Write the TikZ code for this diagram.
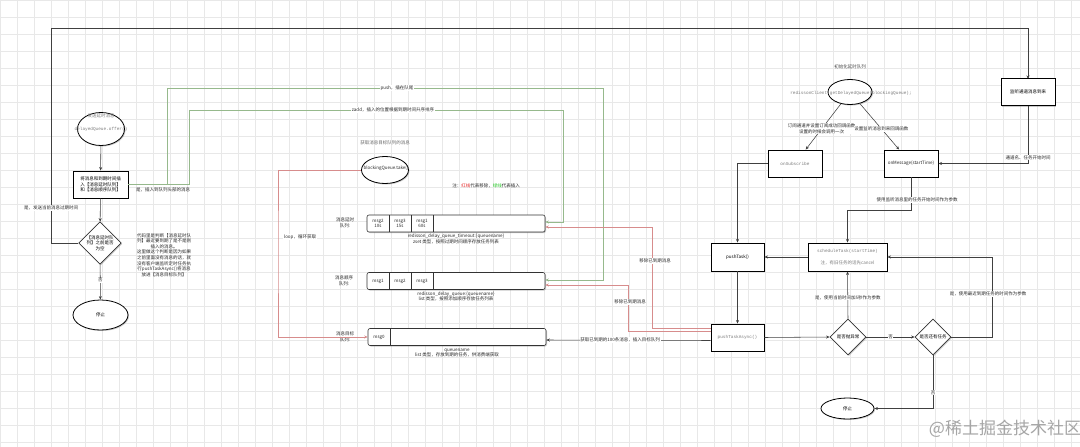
\documentclass[tikz,border=0pt]{standalone}
\usepackage{fontspec}
\setmainfont{Noto Sans CJK SC}
\newfontfamily\cjk{Noto Sans CJK SC}
\newfontfamily\monof{Liberation Mono}
\usetikzlibrary{shapes.geometric,arrows.meta,shadows,calc}
\definecolor{gridc}{RGB}{232,232,232}
\definecolor{greenl}{RGB}{150,185,140}
\definecolor{redl}{RGB}{215,140,140}
\definecolor{txt}{RGB}{40,40,40}
\definecolor{monoc}{RGB}{125,125,125}
\definecolor{notered}{RGB}{230,40,40}
\definecolor{notegreen}{RGB}{40,200,40}
\tikzset{
  sh/.style={drop shadow={shadow xshift=1pt,shadow yshift=-1pt,opacity=0.35,fill=black!60}},
  boxn/.style={draw=black,line width=0.9pt,fill=white,inner sep=1pt,align=center,sh},
  elln/.style={ellipse,draw=black,line width=0.8pt,fill=white,inner sep=0pt,sh},
  dian/.style={diamond,draw=black!80,line width=0.7pt,fill=white,inner sep=0pt,align=center,sh},
  queue/.style={draw=black!80,line width=0.6pt,rounded corners=2pt,fill=white,minimum width=178pt,minimum height=17pt,inner sep=0pt,sh},
  lbl/.style={fill=white,inner sep=0.6pt,text=txt,align=center},
  plain/.style={inner sep=0pt,text=txt,align=center},
  monot/.style={inner sep=0pt,text=monoc,font=\monof\fontsize{4.4}{6}\selectfont,align=center},
  conn/.style={draw=black!75,line width=0.55pt,-{Stealth[length=3.5pt,width=3pt]}},
  gconn/.style={draw=greenl,line width=0.55pt,-{Stealth[length=3.5pt,width=3pt]}},
  rconn/.style={draw=redl,line width=0.55pt,-{Stealth[length=3.5pt,width=3pt]}},
}
\begin{document}
\begin{tikzpicture}[x=1pt,y=-1pt,font=\fontsize{4.5}{5.6}\selectfont]
\useasboundingbox (0,0) rectangle (1080,447);
\fill[white] (0,0) rectangle (1080,447);
\foreach \i in {0,...,63} \draw[gridc,line width=0.4pt] (\i*17,0) -- (\i*17,447);
\foreach \j in {0,...,26} \draw[gridc,line width=0.4pt] (0,\j*17) -- (1080,\j*17);

% ---------------- left flow ----------------
\node[elln,minimum width=47pt,minimum height=33pt] (e1) at (101,129) {};
\node[plain,text=monoc] (e1t) at (101,116) {\cjk 发送延时消息};
\node[monot] (e1m) at (101,129) {delayedQueue.offer()};
\node[boxn,minimum width=55pt,minimum height=27pt] (r1) at (100.5,184.5) {将消息和到期时间插\\入【消息延时队列】\\和【消息顺序队列】};
\node[dian,minimum width=37pt,minimum height=39pt] (d1) at (100,243) {【消息延时队\\列】之前是否\\为空};
\node[elln,minimum width=55pt,minimum height=30pt] (s1) at (100.5,315) {停止};
\draw[conn] (e1) -- (r1);
\draw[conn] (r1) -- (d1);
\draw[conn] (d1) -- node[lbl,pos=0.45] (l_no1) {否} (s1);
\coordinate (tl) at (51,28);
\draw[conn] (d1.west) -| (tl) -| ($(tl)+(977,51)$);
\node[lbl] (l_yes1) at (51,208) {是，发送当前消息过期时间};
\node[plain] (note1) at (164,255) {代码里是判断【消息延时队\\列】最近要到期了是不是刚\\插入的消息。\\这里做这个判断是因为如果\\之前里面没有消息的话，就\\没有客户端监听定时任务执\\行pushTaskAsync()将消息\\放进【消息目标队列】};

% ---------------- queues ----------------
\node[queue] (qt) at (456,223.5) {};
\node[queue] (qo) at (456,281) {};
\node[queue] (tq) at (457,337) {};
\draw[black!80,line width=0.6pt] (389,215) -- (389,232) (411,215) -- (411,232) (433,215) -- (433,232);
\draw[black!80,line width=0.6pt] (389,272.5) -- (389,289.5) (411,272.5) -- (411,289.5) (433,272.5) -- (433,289.5);
\draw[black!80,line width=0.6pt] (390,328.5) -- (390,345.5);
\node[plain] (qt1) at (378,223.5) {msg2\\10s};
\node[plain] (qt2) at (400,223.5) {msg3\\15s};
\node[plain] (qt3) at (422,223.5) {msg1\\60s};
\node[plain] (qo1) at (378,281) {msg1};
\node[plain] (qo2) at (400,281) {msg2};
\node[plain] (qo3) at (422,281) {msg3};
\node[plain] (tq1) at (379,337) {msg0};
\node[plain] (qtl) at (345,223) {消息延时\\队列:};
\node[plain] (qol) at (344,281) {消息顺序\\队列:};
\node[plain] (tql) at (345,337) {消息目标\\队列:};
\node[plain] (qtd) at (456,239) {redisson\_delay\_queue\_timeout:\{queuename\}\\zset 类型，按照过期时间顺序存放任务列表};
\node[plain] (qod) at (456,296.5) {redisson\_delay\_queue:\{queuename\}\\list 类型，按照添加顺序存放任务列表};
\node[plain] (tqd) at (457,353) {queuename\\list 类型，存放到期的任务，供消费端获取};

% consumer
\node[plain,text=black!60] (bqt) at (385,143) {获取消息目标队列的消息};
\node[elln,minimum width=47pt,minimum height=27pt] (bq) at (385,170) {};
\node[plain] (bqtx) at (386,168) {blockingQueue.take()};
\node[plain] (legend) at (486,186) {注：{\color{notered}红线}代表移除，{\color{notegreen}绿线}代表插入};
\coordinate (lp) at (278,250);
\draw[rconn] (bq.west) -| (lp) |- (tq.west);
\node[lbl] (l_loop) at (300,237) {loop，循环获取};

% green insert lines
\coordinate (g1) at (189,110);
\coordinate (g2) at (167,88);
\draw[gconn] (r1.east) -| (g1) -| ($(qt.east)+(18,-1.5)$) -- ($(qt.east)+(0,-1.5)$);
\draw[gconn] (r1.east) -| (g2) -| ($(qo.east)+(58,-1)$) -- ($(qo.east)+(0,-1)$);
\node[lbl] (l_zadd) at (393,110) {zadd，插入的位置根据到期时间升序排序};
\node[lbl] (l_push) at (397,88) {push，插在队尾};
\node[plain] (l_yes2) at (163,190) {是，插入到队列头部的消息};

% ---------------- right flow ----------------
\node[plain,text=black!70] (initl) at (850,67) {初始化延时队列};
\node[elln,minimum width=44pt,minimum height=25pt] (e2) at (850,92) {};
\node[monot] (e2m) at (851,93) {redissonClient.getDelayedQueue(blockingQueue);};
\node[boxn,minimum width=54pt,minimum height=27pt,font=\monof\fontsize{4.4}{6}\selectfont,text=monoc] (sub) at (795,163.5) {onSubscribe};
\node[boxn,minimum width=54pt,minimum height=27pt] (onm) at (911,163.5) {};
\node[plain] (onmt) at (911,163.5) {onMessage(startTime)};
\node[boxn,minimum width=54pt,minimum height=27pt] (lis) at (1028,92) {监听通道消息到来};
\node[boxn,minimum width=53pt,minimum height=28pt] (pt) at (737.5,257) {pushTask()};
\node[boxn,minimum width=79pt,minimum height=28pt] (sch) at (847.5,257) {};
\node[monot] (scht) at (847.5,251) {scheduleTask(startTime)};
\node[plain,text=monoc] (schn) at (847.5,263) {注，有旧任务的话先cancel};
\node[boxn,minimum width=53pt,minimum height=27pt,font=\monof\fontsize{4.4}{6}\selectfont,text=monoc] (pta) at (737.5,337.5) {pushTaskAsync()};
\node[dian,minimum width=36pt,minimum height=36pt] (d2) at (848,337) {是否抛异常};
\node[dian,minimum width=36pt,minimum height=36pt] (d3) at (933,337) {是否还有任务};
\node[elln,minimum width=53pt,minimum height=21pt] (s2) at (847.5,408.5) {停止};

\draw[conn] (e2) -- node[lbl,pos=0.55] (l_sub) {订阅通道并设置订阅成功回调函数\\设置的时候会调用一次} (sub);
\draw[conn] (e2) -- node[lbl,pos=0.55] (l_onm) {设置监听消息到来回调函数} (onm);
\draw[conn] (lis.south) |- node[lbl,pos=0.45] (l_ch) {通道名、任务开始时间} (onm.east);
\draw[conn] (sub.west) -| (pt.north);
\coordinate (k1) at (847.5,210);
\draw[conn] (onm.south) |- (k1) -- (sch.north);
\node[lbl] (l_par) at (917,200) {使用监听消息里的任务开始时间作为参数};
\draw[conn] (sch.west) -- (pt.east);
\draw[conn] (pt.south) -- (pta.north);
\draw[conn] (pta.east) -- (d2.west);
\draw[conn] (d2.north) -- node[lbl,pos=0.45] (l_y5) {是，使用当前时间加5秒作为参数} (sch.south);
\draw[conn] (d2.east) -- node[lbl] (l_no2) {否} (d3.west);
\coordinate (k2) at (992,257);
\draw[conn] (d3.east) -| (k2) -- (sch.east);
\node[lbl] (l_near) at (988,294) {是，使用最近到期任务的时间作为参数};
\draw[conn] (d3.south) |- node[lbl,pos=0.35] (l_no3) {否} (s2.east);

% pushTaskAsync to queues
\draw[conn] ($(pta.west)+(0,3)$) -- node[lbl,pos=0.55] (l_get) {获取已到期的100条消息，插入目标队列} ($(tq.east)+(0,3)$);
\draw[rconn] ($(pta.west)+(0,-9.5)$) -| ($(qt.east)+(107,3.5)$) -- ($(qt.east)+(0,3.5)$);
\draw[rconn] ($(pta.west)+(0,-6)$) -| ($(qo.east)+(83,4)$) -- ($(qo.east)+(0,4)$);
\node[lbl] (l_rm1) at (655,261) {移除已到期消息};
\node[lbl] (l_rm2) at (630,302) {移除已到期消息};

% watermark
\node[inner sep=0pt,text=black!35,font=\fontsize{17}{20}\selectfont] (wm) at (1005,429) {@稀土掘金技术社区};
\end{tikzpicture}
\end{document}
